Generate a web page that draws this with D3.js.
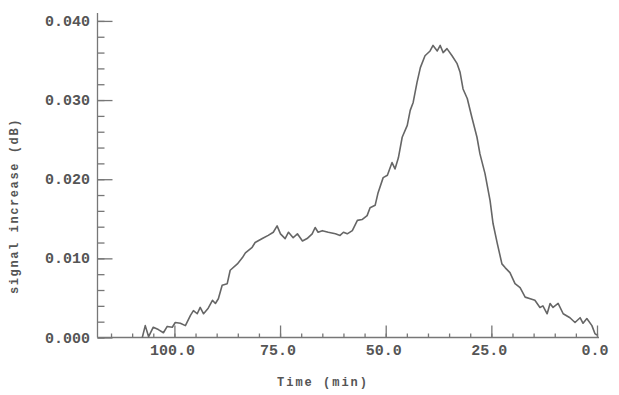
<!DOCTYPE html>
<html>
<head>
<meta charset="utf-8">
<script src="https://cdn.jsdelivr.net/npm/d3@7"></script>
<style>
    body { margin: 0; background: #fff; }
    svg { display: block; }
    text { font-family: "Liberation Mono", "DejaVu Sans Mono", monospace; font-weight: bold; fill: #555; }
</style>
</head>
<body>
<svg id="chart"></svg>
<script>
// time in minutes (axis runs backwards, 0 at the right)
const times = [
    107.6, 106.9, 106.1, 105.0, 103.8, 102.6, 101.7, 100.5, 99.8, 98.6,
    97.4, 96.2, 95.5, 94.6, 93.9, 93.1, 92.0, 91.0, 90.3, 89.6,
    88.7, 87.5, 86.8, 85.1, 83.9, 83.2, 81.6, 80.9, 79.2, 77.8,
    76.6, 75.7, 74.9, 73.8, 73.0, 71.9, 70.9, 69.7, 68.6, 67.4,
    66.7, 66.0, 65.0, 63.6, 61.9, 60.8, 60.0, 59.1, 57.9, 56.7,
    55.6, 54.4, 53.7, 52.5, 51.8, 50.6, 49.6, 48.5, 47.8, 47.0,
    46.1, 44.9, 44.2, 43.5, 42.6, 41.8, 40.7, 39.5, 38.8, 37.8,
    37.1, 36.4, 35.5, 34.3, 33.1, 32.4, 31.7, 30.7, 29.6, 28.4,
    27.7, 26.5, 25.3, 24.6, 23.6, 22.5, 21.7, 20.6, 19.4, 18.2,
    17.0, 15.8, 14.7, 13.5, 12.8, 11.8, 11.1, 10.4, 9.2, 8.0,
    6.4, 5.2, 4.0, 3.3, 2.4, 1.2, 0.5, 0.0
];

// signal increase (dB)
const signal = [
    0.0000, 0.0015, 0.0001, 0.0013, 0.0010, 0.0006, 0.0014, 0.0013, 0.0019, 0.0018,
    0.0015, 0.0028, 0.0034, 0.0030, 0.0038, 0.0030, 0.0037, 0.0047, 0.0043, 0.0049,
    0.0066, 0.0068, 0.0085, 0.0093, 0.0101, 0.0107, 0.0114, 0.0120, 0.0125, 0.0129,
    0.0133, 0.0141, 0.0131, 0.0125, 0.0133, 0.0126, 0.0131, 0.0122, 0.0125, 0.0131,
    0.0139, 0.0133, 0.0135, 0.0133, 0.0131, 0.0129, 0.0133, 0.0131, 0.0135, 0.0148,
    0.0149, 0.0154, 0.0164, 0.0167, 0.0183, 0.0202, 0.0205, 0.0221, 0.0213, 0.0227,
    0.0253, 0.0268, 0.0287, 0.0297, 0.0322, 0.0341, 0.0356, 0.0362, 0.0369, 0.0362,
    0.0369, 0.0360, 0.0365, 0.0356, 0.0346, 0.0335, 0.0314, 0.0302, 0.0278, 0.0253,
    0.0232, 0.0207, 0.0173, 0.0144, 0.0119, 0.0093, 0.0088, 0.0082, 0.0068, 0.0063,
    0.0051, 0.0049, 0.0047, 0.0038, 0.0040, 0.0030, 0.0043, 0.0038, 0.0043, 0.0030,
    0.0025, 0.0019, 0.0025, 0.0018, 0.0024, 0.0015, 0.0005, 0.0003
];

const xTickValues = [100, 75, 50, 25, 0];
const yTickValues = [0, 0.01, 0.02, 0.03, 0.04];

const width = 619;
const height = 395;

const axisLeftX = 97.5;
const axisRightX = 597;
const axisTopY = 13;
const axisBottomY = 337.5;

const svg = d3.select("#chart").attr("width", width).attr("height", height);

const scaleX = d3.scaleLinear().domain([118.2, 0]).range([axisLeftX, axisRightX]);
const scaleY = d3.scaleLinear().domain([0, 0.041]).range([axisBottomY, axisTopY]);

const axisColor = "#777";

// x axis: ticks point up into the plot
const xMinor = d3.axisTop(scaleX).tickValues(d3.range(115, -1, -5)).tickSize(4).tickFormat("");
const xMajor = d3.axisTop(scaleX).tickValues(xTickValues).tickSize(12).tickFormat("");

const gx = svg.append("g").attr("class", "xAxis").attr("transform", `translate(0, ${axisBottomY})`);
gx.append("g").call(xMinor);
gx.append("g").call(xMajor);
gx.selectAll(".domain").remove();
gx.append("line")
    .attr("x1", axisLeftX)
    .attr("x2", axisRightX + 2)
    .attr("stroke", axisColor)
    .attr("stroke-width", 1.5);
gx.selectAll("line").attr("stroke", axisColor).attr("stroke-width", 1.3);

svg.append("g")
    .selectAll("text")
    .data(xTickValues)
    .join("text")
    .attr("x", (d) => scaleX(d) - 2)
    .attr("y", 355)
    .attr("text-anchor", "middle")
    .style("font-size", "15px")
    .text((d) => d3.format(".1f")(d));

// y axis: ticks point right into the plot
const yMinor = d3.axisRight(scaleY).tickValues(d3.range(0, 0.0401, 0.002)).tickSize(7).tickFormat("");
const yMajor = d3.axisRight(scaleY).tickValues(yTickValues).tickSize(15).tickFormat("");

const gy = svg.append("g").attr("class", "yAxis").attr("transform", `translate(${axisLeftX}, 0)`);
gy.append("g").call(yMinor);
gy.append("g").call(yMajor);
gy.selectAll(".domain").remove();
gy.append("line")
    .attr("y1", axisTopY)
    .attr("y2", axisBottomY)
    .attr("stroke", axisColor)
    .attr("stroke-width", 1.5);
gy.selectAll("line").attr("stroke", axisColor).attr("stroke-width", 1.3);

svg.append("g")
    .selectAll("text")
    .data(yTickValues)
    .join("text")
    .attr("x", 90)
    .attr("y", (d) => scaleY(d) + 5)
    .attr("text-anchor", "end")
    .style("font-size", "15px")
    .text((d) => d3.format(".3f")(d));

// axis titles
svg.append("text")
    .attr("x", 323)
    .attr("y", 386)
    .attr("text-anchor", "middle")
    .style("font-size", "12px")
    .style("letter-spacing", "2px")
    .text("Time (min)");

svg.append("text")
    .attr("transform", "translate(18, 206) rotate(-90)")
    .attr("text-anchor", "middle")
    .style("font-size", "12px")
    .style("letter-spacing", "1.6px")
    .text("signal increase (dB)");

// the trace
const points = times.map((t, i) => ({ t, v: signal[i] }));

const line = d3
    .line()
    .x((d) => scaleX(d.t))
    .y((d) => scaleY(d.v));

svg.append("path")
    .datum(points)
    .attr("fill", "none")
    .attr("stroke", "#666")
    .attr("stroke-width", 1.6)
    .attr("stroke-linejoin", "round")
    .attr("d", line);
</script>
</body>
</html>
